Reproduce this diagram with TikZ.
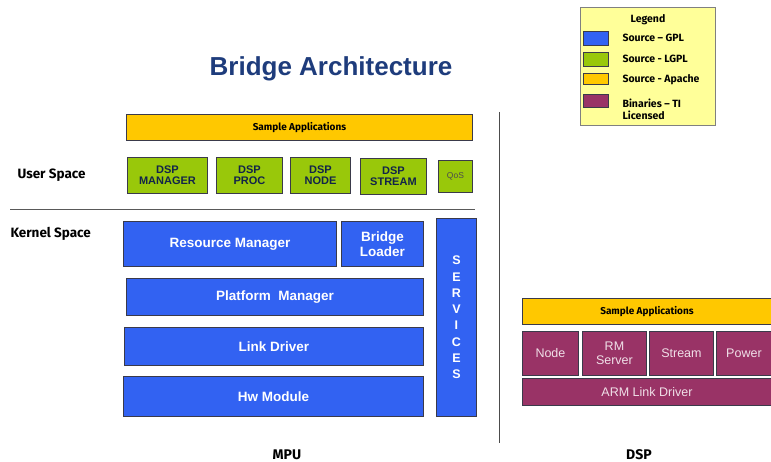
\documentclass[tikz,border=0pt]{standalone}
\usepackage{fontspec}
\setmainfont{Liberation Sans}
\newfontfamily\heavyfont{Fira Sans}[UprightFont=* Bold]
\definecolor{gplblue}{HTML}{3262F2}
\definecolor{lgplgreen}{HTML}{99C80A}
\definecolor{apacheyellow}{HTML}{FFC800}
\definecolor{timaroon}{HTML}{993366}
\definecolor{legendbg}{HTML}{FFFF99}
\definecolor{titleblue}{HTML}{1E3C7C}
\definecolor{edgedark}{HTML}{3A3A4A}
\begin{document}
\begin{tikzpicture}[x=1pt,y=-1pt,
  blk/.style={draw=edgedark,line width=0.9pt,inner sep=0pt,anchor=north west},
  bluebox/.style={blk,fill=gplblue,text=white,font=\bfseries\fontsize{13.5}{15}\selectfont,align=center},
  greenbox/.style={blk,fill=lgplgreen,text=titleblue!60!black,font=\bfseries\fontsize{11}{11.5}\selectfont,align=center},
  yellowbox/.style={blk,fill=apacheyellow,font=\heavyfont\fontsize{10}{11}\selectfont},
  maroonbox/.style={blk,fill=timaroon,text=white!85!timaroon,font=\fontsize{12.5}{14}\selectfont,align=center},
  sidelabel/.style={font=\heavyfont\fontsize{13.5}{15}\selectfont,anchor=west},
  swatch/.style={draw=edgedark,line width=0.6pt,inner sep=0pt,anchor=north west,minimum width=25pt},
  legtext/.style={font=\heavyfont\fontsize{10.5}{12.5}\selectfont,anchor=west,align=left}]
\useasboundingbox (0,0) rectangle (771,462);
\fill[white] (0,0) rectangle (771,462);

% title
\node[font=\bfseries\fontsize{26}{29}\selectfont,text=titleblue] (title) at (331,69) {Bridge Architecture};

% legend
\node[draw=gray,line width=0.7pt,fill=legendbg,anchor=north west,minimum width=135pt,minimum height=118pt,inner sep=0pt] (legend) at (580,7) {};
\node[font=\heavyfont\fontsize{10.5}{12}\selectfont] (legtitle) at (648,20) {Legend};
\node[swatch,fill=gplblue,minimum height=14pt] (swgpl) at (583,31) {};
\node[swatch,fill=lgplgreen,minimum height=14pt] (swlgpl) at (583,52) {};
\node[swatch,fill=apacheyellow,minimum height=11pt] (swapache) at (583,73) {};
\node[swatch,fill=timaroon,minimum height=13pt] (swti) at (583,94) {};
\node[legtext] (lgpl) at (619,38) {Source – GPL};
\node[legtext] (llgpl) at (619,59) {Source - LGPL};
\node[legtext] (lapache) at (619,80) {Source - Apache};
\node[legtext,anchor=north west] (lti) at (619,95) {Binaries – TI\\Licensed};

% MPU side: user space
\node[yellowbox,minimum width=346pt,minimum height=26pt] (mpuapps) at (126,114) {Sample Applications};
\node[greenbox,minimum width=80pt,minimum height=36pt] (dspmgr) at (127,157) {DSP\\MANAGER};
\node[greenbox,minimum width=66pt,minimum height=36pt] (dspproc) at (216,157) {DSP\\PROC};
\node[greenbox,minimum width=60pt,minimum height=36pt] (dspnode) at (290,157) {DSP\\NODE};
\node[greenbox,minimum width=66pt,minimum height=36pt] (dspstream) at (360,158) {DSP\\STREAM};
\node[greenbox,minimum width=34pt,minimum height=32pt,font=\fontsize{8.5}{9}\selectfont,text=gray!60!black] (qos) at (438,160) {QoS};

\node[sidelabel] (userspace) at (14,175) {User Space};
\coordinate (splitL) at (10,210);
\coordinate (splitR) at (475,210);
\draw[line width=1pt,gray!70!black] (splitL) -- (splitR);
\node[sidelabel] (kernelspace) at (7,234) {Kernel Space};

% MPU side: kernel space
\node[bluebox,minimum width=213pt,minimum height=45pt] (resmgr) at (123,221) {Resource Manager};
\node[bluebox,minimum width=82pt,minimum height=45pt] (loader) at (341,221) {Bridge\\Loader};
\node[bluebox,minimum width=297pt,minimum height=37pt] (platmgr) at (126,278) {Platform\ \ Manager};
\node[bluebox,minimum width=299pt,minimum height=38pt] (linkdrv) at (124,327) {Link Driver};
\node[bluebox,minimum width=300pt,minimum height=40pt] (hwmod) at (123,376) {Hw Module};
\node[bluebox,minimum width=40pt,minimum height=198pt,font=\bfseries\fontsize{12.5}{16.3}\selectfont] (services) at (436,218) {S\\E\\R\\V\\I\\C\\E\\S};

% MPU / DSP divider
\coordinate (divtop) at (499,112);
\coordinate (divbot) at (499,443);
\draw[line width=1pt,gray!60!black] (divtop) -- (divbot);

% DSP side
\node[yellowbox,minimum width=249pt,minimum height=26pt] (dspapps) at (522,298) {Sample Applications};
\node[maroonbox,minimum width=56pt,minimum height=44pt] (node) at (522,331) {Node};
\node[maroonbox,minimum width=64pt,minimum height=44pt] (rmserver) at (582,331) {RM\\Server};
\node[maroonbox,minimum width=64pt,minimum height=44pt] (stream) at (649,331) {Stream};
\node[maroonbox,minimum width=55pt,minimum height=44pt] (power) at (716,331) {Power};
\node[maroonbox,minimum width=249pt,minimum height=27pt] (armlink) at (522,378) {ARM Link Driver};

% bottom captions
\node[font=\heavyfont\fontsize{14}{15}\selectfont] (mpu) at (287,455) {MPU};
\node[font=\heavyfont\fontsize{14}{15}\selectfont] (dsp) at (639,455) {DSP};
\end{tikzpicture}
\end{document}
